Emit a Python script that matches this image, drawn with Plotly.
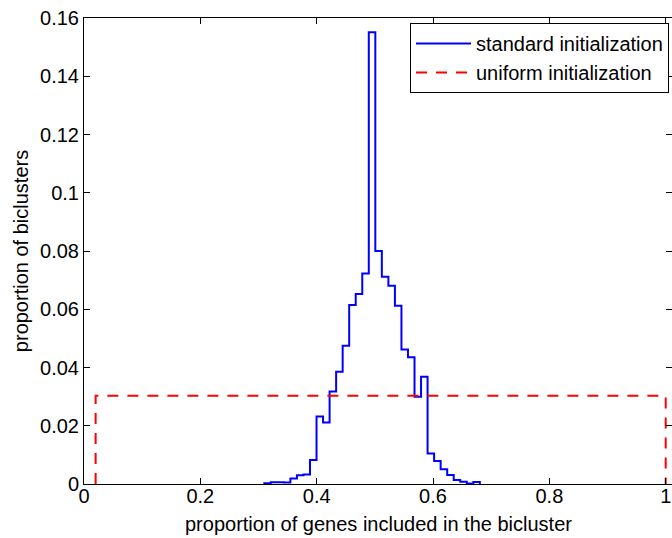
import plotly.graph_objects as go

# ---- data ----
# histogram of "standard initialization" (step outline), equal-width bins
std_bin_left = 0.3099
std_bin_width = 0.01123
std_values = [0.0003, 0.0006, 0.0006, 0.0005, 0.0019, 0.0030, 0.0033,
              0.0082, 0.0232, 0.0211, 0.0318, 0.0385, 0.0475, 0.0615,
              0.0652, 0.0723, 0.1551, 0.0800, 0.0712, 0.0681, 0.0612,
              0.0462, 0.0435, 0.0300, 0.0368, 0.0105, 0.0079, 0.0051,
              0.0031, 0.0014, 0.0008, 0.0002, 0.0007]

# "uniform initialization" (flat distribution)
uni_left = 0.02
uni_right = 1.0
uni_value = 0.0303

x_ticks = [0, 0.2, 0.4, 0.6, 0.8, 1]
x_tick_text = ["0", "0.2", "0.4", "0.6", "0.8", "1"]
y_ticks = [0, 0.02, 0.04, 0.06, 0.08, 0.1, 0.12, 0.14, 0.16]
y_tick_text = ["0", "0.02", "0.04", "0.06", "0.08", "0.1", "0.12", "0.14", "0.16"]

x_title = "proportion of genes included in the bicluster"
y_title = "proportion of biclusters"

# ---- build step outlines ----
edges = [std_bin_left + i * std_bin_width for i in range(len(std_values) + 1)]
std_x = [edges[0]] + edges
std_y = [0] + std_values + [0]

uni_x = [uni_left, uni_left, uni_right, uni_right]
uni_y = [0, uni_value, uni_value, 0]

FONT = "Liberation Sans, Arial, Helvetica, sans-serif"

fig = go.Figure()
fig.add_trace(go.Scatter(x=std_x, y=std_y, mode="lines", line_shape="hv",
                         line=dict(color="#0000ff", width=2),
                         name="standard initialization"))
fig.add_trace(go.Scatter(x=uni_x, y=uni_y, mode="lines",
                         line=dict(color="#ff0000", width=2, dash="11px,9px"),
                         name="uniform initialization"))

W, H = 672, 538
ml, mt, mb, mr = 84, 18, 54, 0
plot_w = W - ml - mr
px_per_unit = 581.7
x_max = plot_w / px_per_unit

axis_common = dict(showgrid=False, zeroline=False, showline=True, linecolor="black",
                   linewidth=1, mirror="ticks", ticks="inside", ticklen=6,
                   tickcolor="black", tickwidth=1,
                   tickfont=dict(family=FONT, size=20, color="black"))

fig.update_layout(
    width=W, height=H,
    margin=dict(l=ml, r=mr, t=mt, b=mb, pad=0),
    paper_bgcolor="white", plot_bgcolor="white",
    font=dict(family=FONT, size=20, color="black"),
    xaxis=dict(range=[0, x_max], tickvals=x_ticks, ticktext=x_tick_text,
               ticklabelstandoff=-6, automargin=False, **axis_common),
    yaxis=dict(range=[0, 0.16], tickvals=y_ticks, ticktext=y_tick_text,
               title=dict(text=y_title, font=dict(family=FONT, size=20), standoff=6),
               automargin=False, **axis_common),
    legend=dict(x=(669 - ml) / plot_w, y=(H - mb - 23) / (H - mt - mb),
                xanchor="right", yanchor="top",
                bgcolor="white", bordercolor="black", borderwidth=1,
                font=dict(family=FONT, size=20, color="black"),
                itemwidth=55, tracegroupgap=0),
    showlegend=True,
    annotations=[dict(text=x_title, xref="paper", yref="paper", x=0.5, y=0,
                      xanchor="center", yanchor="middle", yshift=-40,
                      borderpad=0,
                      showarrow=False, font=dict(family=FONT, size=20, color="black"))],
)

fig.write_html("out.html")
